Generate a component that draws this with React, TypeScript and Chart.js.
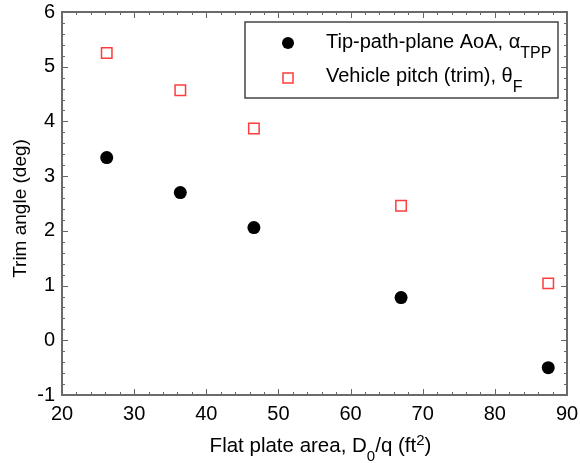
import React, { useEffect, useRef } from "react";
import { Chart, registerables } from "chart.js";

Chart.register(...registerables);

// ---- data ----
const flatPlateArea = [26.2, 36.4, 46.6, 67.0, 87.4];
const tipPathPlaneAoA = [3.34, 2.7, 2.06, 0.78, -0.5];
const vehiclePitch = [5.25, 4.57, 3.87, 2.46, 1.04];

const xMin = 20;
const xMax = 90;
const yMin = -1;
const yMax = 6;

const FONT = '"Liberation Sans", Arial, Helvetica, sans-serif';

type Part = { text: string; size: number; dy: number };

function drawRich(ctx: CanvasRenderingContext2D, parts: Part[], x: number, y: number, align: "left" | "center") {
  let total = 0;
  for (const p of parts) {
    ctx.font = `${p.size}px ${FONT}`;
    total += ctx.measureText(p.text).width;
  }
  let cx = align === "center" ? x - total / 2 : x;
  ctx.textAlign = "left";
  ctx.textBaseline = "alphabetic";
  for (const p of parts) {
    ctx.font = `${p.size}px ${FONT}`;
    ctx.fillText(p.text, cx, y + p.dy);
    cx += ctx.measureText(p.text).width;
  }
}

const decorPlugin = {
  id: "decor",
  afterDatasetsDraw(chart: any) {
    const ctx: CanvasRenderingContext2D = chart.ctx;
    const { left, right, top, bottom } = chart.chartArea;
    const xs = chart.scales.x;
    const ys = chart.scales.y;
    ctx.save();
    // ticks
    ctx.strokeStyle = "#666";
    ctx.lineWidth = 1;
    ctx.beginPath();
    for (let i = 0; i <= (xMax - xMin) / 2; i++) {
      const v = xMin + i * 2;
      const px = Math.round(xs.getPixelForValue(v)) + 0.5;
      const len = v % 10 === 0 ? 6 : 3;
      ctx.moveTo(px, bottom);
      ctx.lineTo(px, bottom - len);
      ctx.moveTo(px, top);
      ctx.lineTo(px, top + len);
    }
    for (let i = 0; i <= (yMax - yMin) * 5; i++) {
      const py = Math.round(ys.getPixelForValue(yMin + i * 0.2)) + 0.5;
      const len = i % 5 === 0 ? 6 : 3;
      ctx.moveTo(left, py);
      ctx.lineTo(left + len, py);
      ctx.moveTo(right, py);
      ctx.lineTo(right - len, py);
    }
    ctx.stroke();
    // frame
    ctx.strokeStyle = "#6a6a6a";
    ctx.lineWidth = 2;
    ctx.strokeRect(left, top, right - left, bottom - top);
    ctx.restore();
  },
  afterDraw(chart: any) {
    const ctx: CanvasRenderingContext2D = chart.ctx;
    const { left, right, top, bottom } = chart.chartArea;
    ctx.save();
    ctx.fillStyle = "#000";

    // x-axis title
    drawRich(
      ctx,
      [
        { text: "Flat plate area, D", size: 20.5, dy: 0 },
        { text: "0", size: 15, dy: 9 },
        { text: "/q (ft", size: 20.5, dy: 0 },
        { text: "2", size: 15, dy: -7 },
        { text: ")", size: 20.5, dy: 0 },
      ],
      (left + right) / 2 + 6,
      bottom + 57,
      "center"
    );

    // y-axis title
    ctx.save();
    ctx.translate(26, (top + bottom) / 2 + 5);
    ctx.rotate(-Math.PI / 2);
    ctx.font = `19px ${FONT}`;
    ctx.textAlign = "center";
    ctx.textBaseline = "alphabetic";
    ctx.fillText("Trim angle (deg)", 0, 0);
    ctx.restore();

    // legend
    const bx = right - 322;
    const by = top + 10;
    const bw = 313;
    const bh = 76;
    ctx.fillStyle = "#fff";
    ctx.fillRect(bx, by, bw, bh);
    ctx.strokeStyle = "#444";
    ctx.lineWidth = 1.5;
    ctx.strokeRect(bx, by, bw, bh);

    const ds0 = chart.data.datasets[0];
    const ds1 = chart.data.datasets[1];
    // circle marker
    ctx.beginPath();
    ctx.arc(bx + 43, by + 21, 6, 0, Math.PI * 2);
    ctx.fillStyle = ds0.backgroundColor;
    ctx.fill();
    // square marker
    ctx.strokeStyle = ds1.borderColor;
    ctx.lineWidth = ds1.borderWidth;
    ctx.strokeRect(bx + 38, by + 51, 10, 10);

    ctx.fillStyle = "#000";
    drawRich(
      ctx,
      [
        { text: ds0.label + ", α", size: 20, dy: 0 },
        { text: "TPP", size: 16, dy: 10 },
      ],
      bx + 81,
      by + 26,
      "left"
    );
    drawRich(
      ctx,
      [
        { text: ds1.label + ", θ", size: 20, dy: 0 },
        { text: "F", size: 16, dy: 10 },
      ],
      bx + 81,
      by + 60,
      "left"
    );
    ctx.restore();
  },
};

export default function App() {
  const canvasRef = useRef<HTMLCanvasElement | null>(null);

  useEffect(() => {
    const canvas = canvasRef.current;
    if (!canvas) return;
    const chart = new Chart(canvas, {
      type: "scatter",
      data: {
        datasets: [
          {
            label: "Tip-path-plane AoA",
            data: flatPlateArea.map((x, i) => ({ x, y: tipPathPlaneAoA[i] })),
            pointStyle: "circle",
            pointRadius: 6.5,
            pointHoverRadius: 6.5,
            backgroundColor: "#000",
            borderColor: "#000",
            borderWidth: 0,
          },
          {
            label: "Vehicle pitch (trim)",
            data: flatPlateArea.map((x, i) => ({ x, y: vehiclePitch[i] })),
            pointStyle: "rect",
            pointRadius: 7.4,
            pointHoverRadius: 7.4,
            backgroundColor: "rgba(255,255,255,0)",
            borderColor: "#ff3c3c",
            borderWidth: 1.5,
          },
        ],
      },
      options: {
        animation: false,
        responsive: true,
        maintainAspectRatio: false,
        layout: { padding: { top: 12, right: 13, left: 0, bottom: 0 } },
        plugins: {
          legend: { display: false },
          tooltip: { enabled: false },
          title: { display: false },
        },
        scales: {
          x: {
            type: "linear",
            min: xMin,
            max: xMax,
            grid: { display: false, drawTicks: true, tickLength: 7 },
            border: { display: false },
            ticks: {
              stepSize: 10,
              padding: 0,
              color: "#000",
              font: { family: FONT, size: 20 },
              maxRotation: 0,
            },
            afterFit: (scale: any) => {
              scale.height = 68;
            },
          },
          y: {
            type: "linear",
            min: yMin,
            max: yMax,
            grid: { display: false, drawTicks: true, tickLength: 7 },
            border: { display: false },
            ticks: {
              stepSize: 1,
              padding: 0,
              color: "#000",
              font: { family: FONT, size: 20 },
            },
            afterFit: (scale: any) => {
              scale.width = 62;
            },
          },
        },
      },
      plugins: [decorPlugin],
    });
    return () => chart.destroy();
  }, []);

  return (
    <div style={{ position: "fixed", left: 0, top: 0, width: 580, height: 463, background: "#fff" }}>
      <canvas ref={canvasRef} style={{ display: "block" }} />
    </div>
  );
}
